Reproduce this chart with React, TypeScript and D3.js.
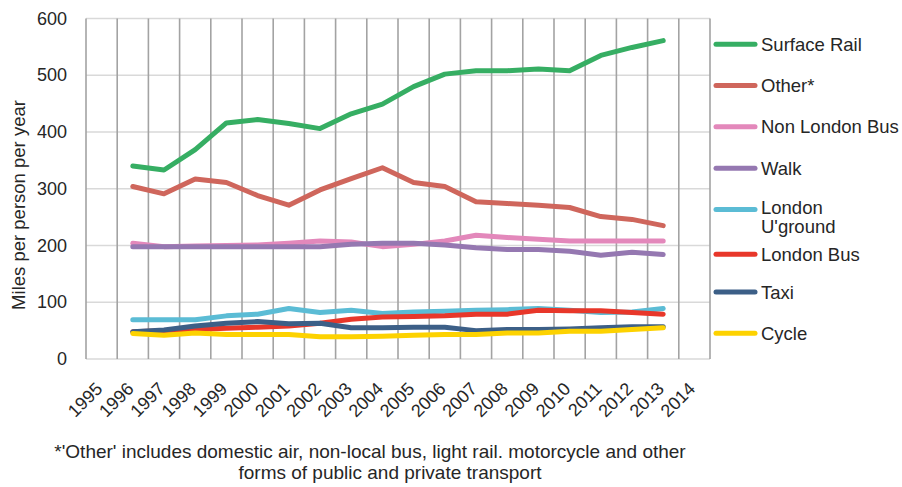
import * as d3 from 'd3';

const WIDTH = 902;
const HEIGHT = 487;
const PLOT = { left: 86, right: 710, top: 18.5, bottom: 359 };
const FONT = '"Liberation Sans", Arial, sans-serif';

// category axis labels
const axisYears = d3.range(1995, 2015).map(String);
// years that carry data
const dataYears = d3.range(1996, 2014).map(String);
const yTicks = [0, 100, 200, 300, 400, 500, 600];

const seriesNames = [
  'Surface Rail',
  'Other*',
  'Non London Bus',
  'Walk',
  "London U'ground",
  'London Bus',
  'Taxi',
  'Cycle',
];
const seriesColors = ['#36ae63', '#cf665c', '#e388bb', '#9578b1', '#5bbcd5', '#e8372a', '#3c5f87', '#fdd200'];

const surfaceRail = [340, 333, 369, 416, 422, 415, 406, 432, 449, 480, 502, 508, 508, 511, 508, 535, 549, 561];
const other = [304, 291, 317, 311, 288, 271, 298, 318, 337, 311, 304, 277, 274, 271, 267, 251, 246, 235];
const nonLondonBus = [204, 198, 199, 200, 201, 204, 208, 206, 198, 202, 208, 218, 214, 211, 208, 208, 208, 208];
const walk = [198, 198, 198, 198, 198, 198, 198, 202, 204, 204, 201, 196, 193, 193, 190, 183, 188, 184];
const londonUground = [69, 69, 69, 76, 79, 89, 82, 86, 80, 83, 84, 86, 87, 89, 86, 82, 83, 89];
const londonBus = [48, 50, 52, 54, 56, 58, 63, 70, 74, 75, 76, 79, 79, 86, 85, 85, 82, 79];
const taxi = [48, 51, 58, 63, 66, 62, 63, 55, 55, 56, 56, 50, 52, 52, 53, 55, 57, 57];
const cycle = [45, 42, 46, 43, 43, 43, 39, 39, 40, 42, 43, 43, 46, 46, 49, 49, 52, 55];

const seriesValues = [surfaceRail, other, nonLondonBus, walk, londonUground, londonBus, taxi, cycle];

const footnote = [
  "*'Other' includes domestic air, non-local bus, light rail. motorcycle and other",
  'forms of public and private transport',
];

const App = () => {
  const xScale = d3.scaleBand().domain(axisYears).range([PLOT.left, PLOT.right]).padding(0);
  const yScale = d3.scaleLinear().domain([0, 600]).range([PLOT.bottom, PLOT.top]);
  const bw = xScale.bandwidth();
  const cx = (yr: string) => (xScale(yr) ?? 0) + bw / 2;

  const line = d3
    .line<number>()
    .x((_, i) => cx(dataYears[i]))
    .y((d) => yScale(d));

  // legend item positions, the wrapped label pushes the next one down a bit
  const legendY = d3.scaleLinear().domain([0, 7]).range([44.3, 333.3]);
  const legendPos = (i: number) => legendY(i) + (i === 5 ? 3.5 : 0);

  const hGrid = yTicks.map((t) => (
    <g key={'h' + t}>
      <line x1={PLOT.left} x2={PLOT.right} y1={yScale(t)} y2={yScale(t)} stroke="#d9d9d9" strokeWidth={1.6} />
      <text
        x={67}
        y={yScale(t)}
        textAnchor="end"
        dominantBaseline="central"
        fontSize={18}
        fill="#262626"
      >
        {t}
      </text>
    </g>
  ));

  const boundaries = [...axisYears.map((y) => xScale(y) ?? 0), PLOT.right];
  const vGrid = boundaries.map((x, i) => (
    <line key={'v' + i} x1={x} x2={x} y1={PLOT.top} y2={PLOT.bottom} stroke="#a3a3a3" strokeWidth={1.6} />
  ));

  const xLabels = axisYears.map((yr) => (
    <text
      key={'x' + yr}
      transform={`translate(${cx(yr) + 2},${390}) rotate(-45)`}
      textAnchor="end"
      fontSize={18}
      fill="#262626"
    >
      {yr}
    </text>
  ));

  const lines = seriesValues.map((vals, i) => (
    <path
      key={'s' + i}
      d={line(vals) ?? ''}
      fill="none"
      stroke={seriesColors[i]}
      strokeWidth={5}
      strokeLinejoin="round"
      strokeLinecap="round"
    />
  ));

  const legend = seriesNames.map((name, i) => {
    const y = legendPos(i);
    const parts = name === "London U'ground" ? ['London', "U'ground"] : [name];
    return (
      <g key={'l' + i}>
        <line x1={716} x2={755} y1={y} y2={y} stroke={seriesColors[i]} strokeWidth={5} strokeLinecap="round" />
        {parts.map((p, j) => (
          <text
            key={j}
            x={761}
            y={y - (parts.length > 1 ? 2 : 0) + j * 19}
            dominantBaseline="central"
            fontSize={18.5}
            fill="#262626"
          >
            {p}
          </text>
        ))}
      </g>
    );
  });

  return (
    <div>
      <style>{`body{margin:0}`}</style>
      <svg width={WIDTH} height={HEIGHT} fontFamily={FONT} style={{ display: 'block', background: '#fff' }}>
        {hGrid}
        {vGrid}
        {lines}
        {xLabels}
        <text
          transform={`translate(18,205) rotate(-90)`}
          textAnchor="middle"
          dominantBaseline="central"
          fontSize={18.5}
          fill="#262626"
        >
          Miles per person per year
        </text>
        {legend}
        <text x={370} y={458} textAnchor="middle" fontSize={19} fill="#262626">
          {footnote[0]}
        </text>
        <text x={390} y={479} textAnchor="middle" fontSize={19} fill="#262626">
          {footnote[1]}
        </text>
      </svg>
    </div>
  );
};

export default App;
